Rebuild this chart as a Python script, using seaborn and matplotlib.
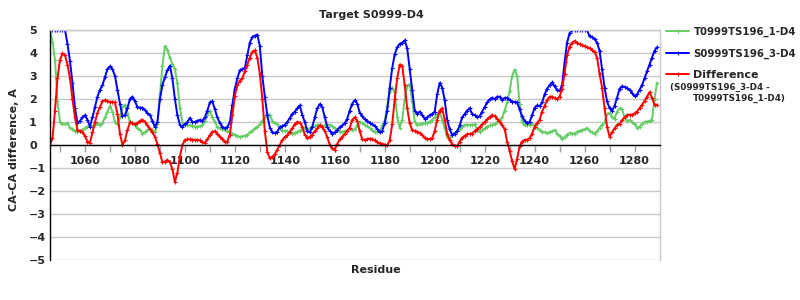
import matplotlib
matplotlib.use("Agg")
import matplotlib.pyplot as plt
import pandas as pd
import seaborn as sns

residues = list(range(1046, 1290))

# green series
t0999_1 = [
    5.0, 4.5, 3.7, 1.9, 1.0, 0.92, 0.9, 0.95, 0.75, 0.7,
    0.6, 0.58, 0.6, 0.65, 0.75, 0.8, 0.85, 0.8, 0.85, 0.95,
    0.85, 0.95, 1.2, 1.45, 1.7, 1.45, 1.0, 0.9, 1.2, 1.65,
    1.75, 1.4, 1.0, 0.95, 0.85, 0.75, 0.65, 0.5, 0.55, 0.65,
    0.7, 0.65, 0.55, 0.9, 2.2, 3.45, 4.3, 4.15, 3.78, 3.52,
    3.3, 2.7, 1.6, 1.0, 0.88, 0.85, 0.85, 0.82, 0.8, 0.8,
    0.82, 0.85,
    1.05, 1.3, 1.5, 1.2, 1.0, 0.8, 0.72, 0.68, 0.65, 0.6,
    0.55, 0.5, 0.45, 0.4, 0.36, 0.37, 0.4, 0.45, 0.55, 0.62,
    0.72, 0.8, 0.9, 1.05, 1.2, 1.35, 1.3, 1.05, 0.95, 0.92,
    0.75, 0.62, 0.62, 0.6, 0.55, 0.5, 0.52, 0.58, 0.62, 0.7,
    0.72, 0.7, 0.72, 0.78, 0.82, 0.88, 0.88, 0.82, 0.85, 0.88,
    0.87, 0.82, 0.72, 0.65, 0.58, 0.56, 0.6, 0.62, 0.72, 0.65,
    0.68,
    0.85, 1.0, 0.95, 0.88, 0.82, 0.75, 0.65, 0.58, 0.55, 0.6,
    0.85, 1.05, 1.7, 2.3, 2.5, 2.3, 1.2, 0.75, 1.1, 2.0,
    2.55, 2.65, 1.9, 1.0, 0.88, 0.9, 0.93, 0.95, 0.97, 1.02,
    1.1, 1.2, 1.35, 1.45, 1.1, 0.72, 0.35, 0.35, 0.45, 0.52,
    0.6, 0.68, 0.8, 0.87, 0.88, 0.87, 0.88, 0.9, 0.65, 0.58,
    0.65, 0.72, 0.8, 0.85, 0.88, 0.92, 1.0, 1.08, 1.2, 1.5,
    1.85, 2.35, 3.0, 3.28, 3.0, 1.8, 1.0, 0.85, 0.86, 0.88,
    0.9, 0.87, 0.75, 0.65, 0.58, 0.55, 0.52, 0.56, 0.6, 0.65,
    0.5, 0.4, 0.25, 0.35, 0.45, 0.52, 0.5, 0.5, 0.58, 0.62,
    0.65, 0.68, 0.72, 0.62, 0.55, 0.5, 0.6, 0.75, 0.88, 1.0,
    1.35, 1.4, 1.2, 1.15, 1.45, 1.6, 1.55, 1.2, 1.05, 1.08,
    1.0, 0.9, 0.75, 0.8, 0.92, 1.0, 1.02, 1.05, 1.1, 2.0,
    2.7,
]

# blue series
s0999_3 = [
    5.0, 5.0, 5.0, 5.0, 5.0, 5.0, 5.0, 4.4, 3.65, 2.7,
    1.6, 0.95, 1.05, 1.2, 1.3, 1.1, 0.8, 1.2, 1.65, 2.1,
    2.4, 2.6, 2.95, 3.3, 3.42, 3.3, 3.0, 2.4, 1.8, 1.25,
    1.3, 1.6, 2.0, 2.1, 1.9, 1.65, 1.62, 1.62, 1.52, 1.4,
    1.3, 1.05, 0.78, 1.0, 2.0, 2.6, 2.95, 3.25, 3.45, 2.9,
    2.0, 1.3, 0.87, 0.8, 0.92, 1.0, 1.18, 1.0, 1.0, 1.05,
    1.09, 1.05,
    1.2, 1.5, 1.85, 1.9, 1.55, 1.2, 0.95, 0.8, 0.72, 0.78,
    1.0, 1.75, 2.45, 2.9, 3.25, 3.3, 3.35, 3.9, 4.45, 4.7,
    4.75, 4.8, 4.3, 3.0, 2.1, 1.3, 0.75, 0.55, 0.52, 0.58,
    0.78, 0.82, 0.88, 1.0, 1.18, 1.35, 1.45, 1.6, 1.72, 1.3,
    1.0, 0.6, 0.55, 0.8, 1.2, 1.6, 1.78, 1.65, 1.2, 0.8,
    0.6, 0.5, 0.55, 0.65, 0.78, 0.85, 0.95, 1.15, 1.5, 1.8,
    1.95,
    1.8, 1.4, 1.25, 1.12, 1.05, 0.97, 0.9, 0.83, 0.7, 0.55,
    0.6, 0.95, 1.5, 2.5, 3.35, 3.95, 4.25, 4.4, 4.45, 4.55,
    4.2, 3.3, 2.4, 1.5, 1.35, 1.45, 1.3, 1.15, 1.2, 1.3,
    1.35, 1.45, 2.2, 2.7, 2.5, 1.95, 1.1, 0.68, 0.45, 0.5,
    0.6, 0.85, 1.2, 1.35, 1.5, 1.6, 1.35, 1.3, 1.2, 1.25,
    1.45, 1.65, 1.85, 1.98, 2.05, 2.0, 2.1, 2.1, 1.95, 2.05,
    2.05,
    1.95, 1.88, 1.87, 1.85, 1.55, 1.25, 1.05, 0.95, 1.0, 1.3,
    1.62, 1.72, 1.68, 1.85, 2.2, 2.45, 2.6, 2.72, 2.55, 2.4,
    2.35, 2.6, 3.6, 4.45, 4.86, 5.0, 5.0, 5.0, 5.0, 5.0,
    5.0, 5.0, 4.72, 4.7, 4.6, 4.45, 4.1, 3.3, 2.5, 1.9,
    1.6, 1.48, 1.7, 2.05, 2.45, 2.55, 2.52, 2.48, 2.4, 2.25,
    2.12, 2.2, 2.4, 2.6, 2.9, 3.2, 3.5, 3.8, 4.1, 4.25,
]

# red series
difference = [
    0.0, 0.3, 1.5, 2.9, 3.7, 3.98, 3.9, 3.5, 2.9, 2.0,
    1.2, 0.65, 0.6, 0.58, 0.38, 0.15, 0.1, 0.55, 1.0, 1.4,
    1.65, 1.9, 1.95, 1.92, 1.85, 1.88, 1.85, 1.35, 0.5, 0.0,
    0.2, 0.65, 0.98, 0.95, 0.9, 0.95, 1.05, 1.1, 1.0, 0.85,
    0.7, 0.55, 0.35, 0.05, -0.35, -0.75, -0.72, -0.65, -0.75, -1.05,
    -1.6, -1.2, -0.5, 0.0, 0.22, 0.25, 0.25, 0.23, 0.22, 0.22,
    0.2, 0.12,
    0.1, 0.25, 0.43, 0.58, 0.6, 0.5, 0.36, 0.28, 0.12, 0.15,
    0.45, 1.3, 2.15, 2.6, 2.8, 2.9, 3.2, 3.5, 3.8, 4.05,
    4.12, 3.8, 3.1, 2.0, 0.6, -0.3, -0.58, -0.52, -0.4, -0.2,
    0.0, 0.22, 0.35, 0.42, 0.58, 0.72, 0.92, 1.0, 0.97, 0.8,
    0.45, 0.32, 0.34, 0.45, 0.6, 0.72, 0.85, 0.8, 0.6, 0.35,
    0.0, -0.15, -0.2, 0.05, 0.25, 0.36, 0.48, 0.62, 0.75, 1.1,
    1.2,
    1.05, 0.6, 0.25, 0.22, 0.26, 0.28, 0.25, 0.2, 0.12, 0.07,
    0.05, 0.02, -0.02, 0.2, 0.9, 2.0, 2.9, 3.5, 3.45, 2.6,
    1.6, 0.95, 0.65, 0.62, 0.58, 0.52, 0.42, 0.32, 0.26, 0.26,
    0.3, 0.6, 1.1, 1.5, 1.6, 1.1, 0.5, 0.2, 0.05, -0.05,
    -0.05, 0.15, 0.32, 0.4, 0.47, 0.48, 0.5, 0.6, 0.68, 0.78,
    0.9, 1.0, 1.12, 1.22, 1.3, 1.25, 1.15, 1.0, 0.85, 0.7,
    0.15, -0.25, -0.7, -1.05, -0.6, -0.05, 0.15, 0.22, 0.22, 0.3,
    0.5, 0.8, 0.95, 1.1, 1.45, 1.7, 1.95, 2.1, 2.1, 2.05,
    2.0, 2.1, 2.45, 3.1, 3.9, 4.28, 4.45, 4.52, 4.45, 4.38,
    4.33, 4.3, 4.25, 4.2, 4.13, 4.05, 3.8, 3.1, 2.5, 1.6,
    0.8, 0.36, 0.55, 0.72, 0.87, 0.92, 1.08, 1.2, 1.3, 1.32,
    1.3, 1.38, 1.45, 1.6, 1.75, 1.92, 2.1, 2.3, 2.05, 1.75,
    1.75,
]

series_names = ["T0999TS196_1-D4", "S0999TS196_3-D4", "Difference"]
series_colors = ["#66cc66", "#0000ff", "#ff0000"]
title_text = "Target S0999-D4"
ylabel_text = "CA-CA difference, A"
xlabel_text = "Residue"
diff_note = ["(S0999TS196_3-D4 -", "T0999TS196_1-D4)"]
xticks_major = list(range(1060, 1281, 20))
xticks_minor = list(range(1050, 1290, 10))
yticks = list(range(-5, 6))

assert len(t0999_1) == len(residues)
assert len(s0999_3) == len(residues)
assert len(difference) == len(residues)

sns.set_style("white")
plt.rcParams["font.family"] = ["DejaVu Sans"]
plt.rcParams["font.weight"] = "bold"
plt.rcParams["axes.labelweight"] = "bold"

df = pd.DataFrame({
    "Residue": residues * 3,
    "value": t0999_1 + s0999_3 + difference,
    "series": sum([[n] * len(residues) for n in series_names], []),
})

fig = plt.figure(figsize=(8, 3), dpi=100)
ax = fig.add_axes([50 / 800, 40 / 300, 610 / 800, 230 / 300])

for name, color in zip(series_names, series_colors):
    sub = df[df["series"] == name]
    sns.lineplot(data=sub, x="Residue", y="value", ax=ax, color=color,
                 linewidth=1.4, marker="+", markersize=2.8,
                 markeredgewidth=0.8, markeredgecolor=color,
                 estimator=None, errorbar=None, sort=False,
                 label=name, legend=False)

ax.set_xlim(1046, 1290.2)
ax.set_ylim(-5, 5)
ax.set_xlabel("")
ax.set_ylabel("")

ax.set_xticks(xticks_major)
ax.set_xticks(xticks_minor, minor=True)
ax.set_xticklabels([str(t) for t in xticks_major])
ax.tick_params(axis="x", which="both", direction="out", length=5,
               width=1, color="#a0a0a0", labelsize=8, pad=3,
               bottom=True)
ax.set_yticks(yticks)
ax.set_yticklabels([f"{t}".replace("-", "\u2212") for t in yticks])
ax.tick_params(axis="y", length=0, pad=15, labelsize=8, left=True)
for lab in ax.get_yticklabels():
    lab.set_horizontalalignment("left")

ax.yaxis.grid(True, color="#c8c8c8", linewidth=1)
ax.xaxis.grid(False)
ax.set_axisbelow(True)

ax.spines["bottom"].set_position(("data", 0))
ax.spines["bottom"].set_color("black")
ax.spines["bottom"].set_linewidth(1)
ax.spines["left"].set_color("black")
ax.spines["left"].set_linewidth(1)
for s in ["top", "right"]:
    ax.spines[s].set_color("#c8c8c8")
    ax.spines[s].set_linewidth(1)

fig.text(371 / 800, 1 - 15.5 / 300, title_text, ha="center", va="center",
         fontsize=8, fontweight="bold")
fig.text(376 / 800, 1 - 270 / 300, xlabel_text, ha="center", va="center",
         fontsize=8, fontweight="bold")
fig.text(14 / 800, 1 - 150 / 300, ylabel_text, ha="center", va="center",
         rotation=90, fontsize=8, fontweight="bold")

handles = ax.get_lines()[:3]
leg = fig.legend(handles, series_names, loc="upper left",
                 bbox_to_anchor=(666 / 800, 1 - 27 / 300), frameon=False,
                 fontsize=7.3, handlelength=2.3, handletextpad=0.4,
                 labelspacing=1.1, borderaxespad=0, borderpad=0)
leg.get_texts()[2].set_fontsize(8)

fig.text(670 / 800, 1 - 87 / 300, diff_note[0], ha="left", va="center",
         fontsize=6.3, fontweight="bold")
fig.text(693 / 800, 1 - 98 / 300, diff_note[1], ha="left", va="center",
         fontsize=6.3, fontweight="bold")

fig.savefig("out.png", dpi=100)
